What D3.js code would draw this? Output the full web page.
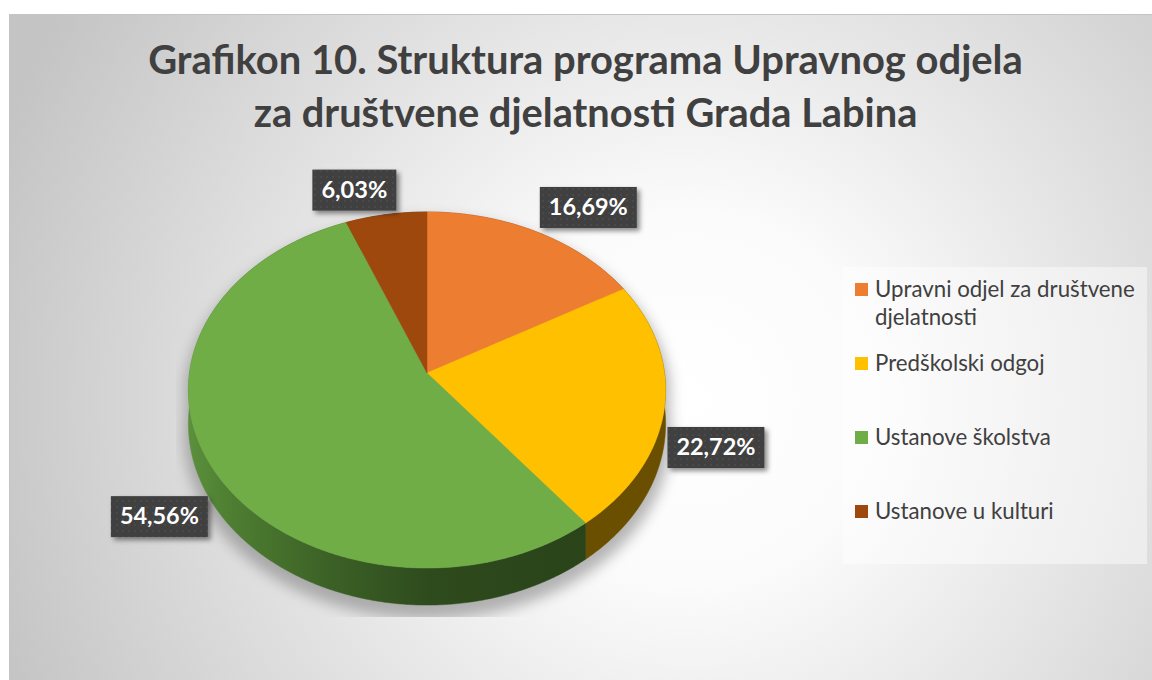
<!DOCTYPE html>
<html>
<head>
<meta charset="utf-8">
<script src="https://cdn.jsdelivr.net/npm/d3@7/dist/d3.min.js"></script>
<style>
  html, body { margin: 0; padding: 0; background: #fff; }
  svg { display: block; }
  text { font-family: Lato, "Open Sans", sans-serif; }
</style>
</head>
<body>
<div id="js-chart"></div>
<script>
// data
const titleLines = ["Grafikon 10. Struktura programa Upravnog odjela", "za društvene djelatnosti Grada Labina"];
const categories = ["Upravni odjel za društvene djelatnosti", "Predškolski odgoj", "Ustanove školstva", "Ustanove u kulturi"];
const values = [16.69, 22.72, 54.56, 6.03];
const colors = ["#ED7D31", "#FFC000", "#70AD47", "#9E480E"];
const sideColors = ["#8a4519", "#6b4f00", "url(#greenSide)", "#5c2a08"];

const width = 1152, height = 680;

const svg = d3.select('#js-chart')
	.append('svg')
	.attr('width', width)
	.attr('height', height);

const defs = svg.append('defs');

// background gradient
const bg = defs.append('radialGradient')
	.attr('id', 'bgGrad')
	.attr('gradientUnits', 'userSpaceOnUse')
	.attr('cx', 690).attr('cy', 400).attr('r', 740);
bg.append('stop').attr('offset', 0).attr('stop-color', '#ffffff');
bg.append('stop').attr('offset', 0.25).attr('stop-color', '#fbfbfb');
bg.append('stop').attr('offset', 1).attr('stop-color', '#c4c4c4');

// green side shading
const gs = defs.append('linearGradient')
	.attr('id', 'greenSide')
	.attr('gradientUnits', 'userSpaceOnUse')
	.attr('x1', 188).attr('x2', 590).attr('y1', 0).attr('y2', 0);
[[0, '#5c903c'], [0.1, '#4e7f32'], [0.35, '#3c6126'], [0.6, '#2e4b1d'], [1, '#2a4319']]
	.forEach(s => gs.append('stop').attr('offset', s[0]).attr('stop-color', s[1]));

// dotted label texture
const pat = defs.append('pattern')
	.attr('id', 'dots')
	.attr('patternUnits', 'userSpaceOnUse')
	.attr('width', 6).attr('height', 6);
pat.append('rect').attr('width', 6).attr('height', 6).attr('fill', '#3f3f3f');
pat.append('circle').attr('cx', 3).attr('cy', 3).attr('r', 0.8).attr('fill', '#585858');

const shadow = defs.append('filter').attr('id', 'boxShadow')
	.attr('x', '-20%').attr('y', '-20%').attr('width', '150%').attr('height', '160%');
shadow.append('feDropShadow')
	.attr('dx', 3).attr('dy', 3).attr('stdDeviation', 2.5)
	.attr('flood-color', '#000').attr('flood-opacity', 0.45);

const blur = defs.append('filter').attr('id', 'pieBlur')
	.attr('x', '-20%').attr('y', '-20%').attr('width', '140%').attr('height', '140%');
blur.append('feGaussianBlur').attr('stdDeviation', 7);

defs.append('clipPath').attr('id', 'plotClip')
	.append('rect').attr('x', 176).attr('y', 190).attr('width', 520).attr('height', 427);

// chart area
svg.append('rect')
	.attr('x', 9.5).attr('y', 14.5)
	.attr('width', 1160).attr('height', 690)
	.attr('fill', 'url(#bgGrad)')
	.attr('stroke', '#c4c4c4')
	.attr('stroke-width', 1);

// fit text width (Lato is wider than the original Calibri)
function fitText(sel, target) {
	const len = sel.node().getComputedTextLength();
	const fs = parseFloat(sel.attr('font-size'));
	sel.attr('font-size', fs * target / len);
}

// title
const titleWidths = [875, 664];
const titleBase = [74, 127];
titleLines.forEach((t, i) => {
	const tx = svg.append('text')
		.attr('x', 585.5)
		.attr('y', titleBase[i])
		.attr('text-anchor', 'middle')
		.attr('font-size', 32)
		.attr('font-weight', 'bold')
		.attr('fill', '#404040')
		.text(t);
	fitText(tx, titleWidths[i]);
});

// 3d pie geometry (perspective tilt)
const CX = 427, CY = 373, RX = 237.5, RY = 176.4, K = 0.0955, DEPTH = 33.5;

function proj(theta, drop) {
	const u = Math.sin(theta), v = -Math.cos(theta);
	const w = 1 - K * v;
	return [CX + RX * u / w, CY + RY * v / w + (drop ? DEPTH / w : 0)];
}

function arcPoints(a0, a1, drop) {
	const n = Math.max(2, Math.ceil((a1 - a0) / (Math.PI / 360)));
	return d3.range(n + 1).map(i => proj(a0 + (a1 - a0) * i / n, drop));
}

const arcs = d3.pie().sort(null).value(d => d)(values);
const line = d3.line();

// shadow under the pie
svg.append('g')
	.attr('clip-path', 'url(#plotClip)')
	.append('path')
	.attr('d', line(arcPoints(Math.PI / 2, Math.PI * 1.5, true).concat(arcPoints(Math.PI * 1.5, Math.PI * 2.5, false))) + 'Z')
	.attr('transform', 'translate(0,9) scale(1.02) translate(-8,-7)')
	.attr('fill', '#7a7a7a')
	.attr('opacity', 0.55)
	.attr('filter', 'url(#pieBlur)');

const pie = svg.append('g').attr('class', 'pie');

// side walls
pie.selectAll('.side')
	.data(arcs)
	.enter().append('path')
	.attr('class', 'side')
	.attr('d', d => line(arcPoints(d.startAngle, d.endAngle, false)
		.concat(arcPoints(d.startAngle, d.endAngle, true).reverse())) + 'Z')
	.attr('fill', (d, i) => sideColors[i])
	.attr('stroke', (d, i) => sideColors[i])
	.attr('stroke-width', 0.5);

// top faces
pie.selectAll('.slice')
	.data(arcs)
	.enter().append('path')
	.attr('class', 'slice')
	.attr('d', d => line([[CX, CY]].concat(arcPoints(d.startAngle, d.endAngle, false))) + 'Z')
	.attr('fill', (d, i) => colors[i])
	.attr('stroke', (d, i) => colors[i])
	.attr('stroke-width', 0.5);

// data labels
const fmt = v => d3.format('.2f')(v).replace('.', ',') + '%';
const clamp = x => Math.max(-1, Math.min(1, x));
const labels = svg.append('g').attr('class', 'labels');
arcs.forEach((d, i) => {
	const mid = (d.startAngle + d.endAngle) / 2;
	const u = Math.sin(mid), v = -Math.cos(mid);
	const anchor = proj(mid, v > 0);
	const g = labels.append('g');
	const tx = g.append('text')
		.attr('font-size', 21)
		.attr('font-weight', 'bold')
		.attr('fill', '#ffffff')
		.attr('text-anchor', 'middle')
		.text(fmt(values[i]));
	fitText(tx, values[i] < 10 ? 66 : 79);
	const bw = tx.node().getComputedTextLength() + 18, bh = 41;
	const cx = anchor[0] + clamp(u * 3.75) * (bw / 2 + 3);
	const cy = v < 0
		? anchor[1] + clamp(v * 1.5) * (bh / 2 + 4)
		: anchor[1] + clamp(v * 1.5) * (bh / 2 + 1);
	g.insert('rect', 'text')
		.attr('x', cx - bw / 2).attr('y', cy - bh / 2)
		.attr('width', bw).attr('height', bh)
		.attr('fill', 'url(#dots)')
		.attr('filter', 'url(#boxShadow)');
	tx.attr('x', cx).attr('y', cy + 7.5);
});

// legend
const legend = svg.append('g').attr('class', 'legend');
legend.append('rect')
	.attr('x', 843).attr('y', 267)
	.attr('width', 304).attr('height', 297)
	.attr('fill', '#ffffff')
	.attr('fill-opacity', 0.45);

// font size from the width of the first legend line
const probe = legend.append('text').attr('font-size', 18).text('Upravni odjel za društvene');
const legendFs = 18 * 260 / probe.node().getComputedTextLength();
probe.remove();

categories.forEach((c, i) => {
	const y = 297 + 74 * i;
	legend.append('rect')
		.attr('x', 855).attr('y', y - 14)
		.attr('width', 13).attr('height', 13)
		.attr('fill', colors[i]);
	const tx = legend.append('text')
		.attr('x', 875).attr('y', y)
		.attr('font-size', legendFs)
		.attr('fill', '#404040');
	// simple word wrap
	const words = c.split(' ');
	let cur = [];
	let ts = tx.append('tspan').attr('x', 875).attr('dy', 0);
	words.forEach(w => {
		cur.push(w);
		ts.text(cur.join(' '));
		if (ts.node().getComputedTextLength() > 266 && cur.length > 1) {
			cur.pop();
			ts.text(cur.join(' '));
			cur = [w];
			ts = tx.append('tspan').attr('x', 875).attr('dy', 28).text(w);
		}
	});
});
</script>
</body>
</html>
